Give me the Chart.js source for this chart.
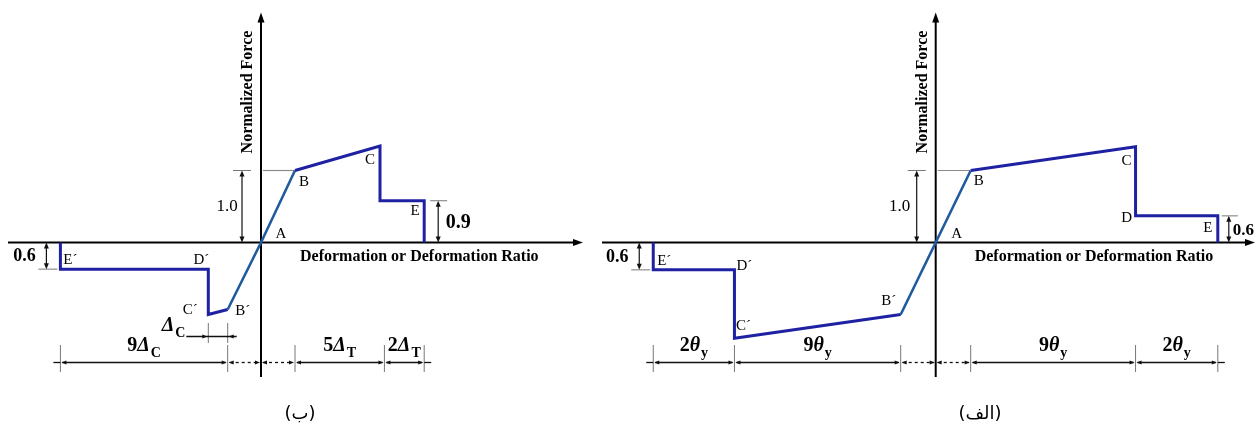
<!DOCTYPE html>
<html lang="fa">
<head>
<meta charset="utf-8">
<title>منحنی نیرو - تغییر شکل</title>
<script src="https://cdn.jsdelivr.net/npm/chart.js@4.4.1/dist/chart.umd.min.js"></script>
<style>
  html, body { margin: 0; padding: 0; background: #fff; }
  #wrap { position: relative; width: 1258px; height: 425px; overflow: hidden; }
  canvas { position: absolute; top: 0; }
  #chartB { left: 0; }
  #chartA { left: 600px; }
</style>
</head>
<body>
<div id="wrap">
  <canvas id="chartB" width="600" height="425"></canvas>
  <canvas id="chartA" width="658" height="425"></canvas>
</div>
<script>
// Panel (ب) : deformation in drawing units (B = 1), normalized force
const pointNamesB = ['', 'E´', 'D´', 'C´', 'B´', 'A', 'B', 'C', '', 'E', ''];
const deformB = [-5.9, -5.9, -1.55, -1.55, -0.98, 0, 1.0, 3.5, 3.5, 4.8, 4.8];
const forceB  = [0, -0.37, -0.37, -1.0, -0.93, 0, 1.0, 1.34, 0.58, 0.58, 0];
const dimTicksB  = [-5.9, -0.98, 0, 1.0, 3.63, 4.8];
const dimLabelsB = ['9Δ_C', '', '', '5Δ_T', '2Δ_T'];

// Panel (الف)
const pointNamesA = ['', 'E´', 'D´', 'C´', 'B´', 'A', 'B', 'C', 'D', 'E', ''];
const deformA = [-8.07, -8.07, -5.75, -5.75, -1.0, 0, 1.0, 5.71, 5.71, 8.06, 8.06];
const forceA  = [0, -0.38, -0.38, -1.33, -1.0, 0, 1.0, 1.33, 0.37, 0.37, 0];
const dimTicksA  = [-8.07, -5.75, -1.0, 0, 1.0, 5.71, 8.06];
const dimLabelsA = ['2θ_y', '9θ_y', '', '', '9θ_y', '2θ_y'];

const FONT = '"Liberation Serif", "Times New Roman", serif';
const PLASTIC = '#1f21a3';
const ELASTIC = '#1f5b9e';

function line(ctx, x1, y1, x2, y2) {
  ctx.beginPath(); ctx.moveTo(x1, y1); ctx.lineTo(x2, y2); ctx.stroke();
}
// filled arrow head, tip at (x,y) pointing toward angle
function head(ctx, x, y, ang, len, half) {
  const c = Math.cos(ang), s = Math.sin(ang);
  ctx.beginPath();
  ctx.moveTo(x, y);
  ctx.lineTo(x - len * c - half * s, y - len * s + half * c);
  ctx.lineTo(x - len * c + half * s, y - len * s - half * c);
  ctx.closePath(); ctx.fill();
}
// "9Δ_C" -> bold 9, italic Δ, subscript C
function subText(ctx, label, cx, base, size, align) {
  const parts = label.split('_');
  const m = parts[0].match(/^(\d*)(.*)$/);
  const num = m[1], greek = m[2], sub = parts[1] || '';
  const fNum = `bold ${size}px ${FONT}`;
  const fGreek = `italic bold ${size}px ${FONT}`;
  const fSub = `bold ${Math.round(size * 0.68)}px ${FONT}`;
  ctx.font = fNum; const w1 = ctx.measureText(num).width;
  ctx.font = fGreek; const w2 = ctx.measureText(greek).width;
  ctx.font = fSub; const w3 = ctx.measureText(sub).width;
  let x = align === 'right' ? cx - (w1 + w2 + w3 + 1) : cx - (w1 + w2 + w3 + 1) / 2;
  ctx.textAlign = 'left'; ctx.textBaseline = 'alphabetic';
  ctx.font = fNum; ctx.fillText(num, x, base); x += w1;
  ctx.font = fGreek; ctx.fillText(greek, x, base); x += w2;
  ctx.font = fSub; ctx.fillText(sub, x + 1, base + 6);
}
// vertical dimension with two arrow heads and one tick
function vdim(ctx, d) {
  ctx.save();
  ctx.strokeStyle = '#111'; ctx.fillStyle = '#111'; ctx.lineWidth = 1.2;
  line(ctx, d.x, d.top + 3, d.x, d.bot - 3);
  head(ctx, d.x, d.top, -Math.PI / 2, 6, 2.5);
  head(ctx, d.x, d.bot, Math.PI / 2, 6, 2.5);
  ctx.strokeStyle = '#777'; ctx.lineWidth = 1;
  line(ctx, d.t1, d.tickY, d.t2, d.tickY);
  ctx.fillStyle = '#000';
  ctx.font = d.font; ctx.textAlign = d.align || 'center'; ctx.textBaseline = 'middle';
  ctx.fillText(d.text, d.tx, d.ty);
  ctx.restore();
}

function makeSketch(cfg) {
  return {
    id: 'sketch',
    beforeDatasetsDraw(chart) {
      const ctx = chart.ctx, xs = chart.scales.x, ys = chart.scales.y;
      const x0 = xs.getPixelForValue(0), y0 = ys.getPixelForValue(0);
      const bx = xs.getPixelForValue(cfg.deform[6]), by = ys.getPixelForValue(cfg.force[6]);
      ctx.save();
      ctx.strokeStyle = '#000'; ctx.fillStyle = '#000'; ctx.lineWidth = 2;
      line(ctx, cfg.axisFrom, y0, cfg.axisTo - 6, y0);
      head(ctx, cfg.axisTo, y0, 0, 10, 3.5);
      line(ctx, x0, 377, x0, 20);
      head(ctx, x0, 12.5, -Math.PI / 2, 10, 3.5);
      // yield reference line
      ctx.strokeStyle = '#8a8a8a'; ctx.lineWidth = 1.2;
      line(ctx, x0 + 2, by, bx - 1, by);
      ctx.restore();
    },
    afterDatasetsDraw(chart) {
      const ctx = chart.ctx, xs = chart.scales.x, ys = chart.scales.y;
      const px = v => xs.getPixelForValue(v), py = v => ys.getPixelForValue(v);
      const x0 = px(0), y0 = py(0);
      ctx.save();
      // point names
      ctx.fillStyle = '#000';
      ctx.font = `15px ${FONT}`; ctx.textAlign = 'center'; ctx.textBaseline = 'middle';
      cfg.names.forEach((n, i) => {
        if (!n) return;
        const o = cfg.nameOffsets[i];
        ctx.fillText(n, px(cfg.deform[i]) + o[0], py(cfg.force[i]) + o[1]);
      });
      // axis titles
      ctx.font = `bold 16px ${FONT}`; ctx.textAlign = 'left';
      ctx.fillText('Deformation or Deformation Ratio', x0 + 39, 256.5);
      ctx.save();
      ctx.translate(x0 - 13, 92); ctx.rotate(-Math.PI / 2);
      ctx.textAlign = 'center';
      ctx.fillText('Normalized Force', 0, 0);
      ctx.restore();
      // horizontal dimension chain
      const dy = 362.5;
      const ticks = cfg.dimTicks.map(px);
      ctx.strokeStyle = '#777'; ctx.lineWidth = 1;
      ticks.forEach(t => { if (Math.abs(t - x0) > 1) line(ctx, t, 345, t, 372); });
      ctx.strokeStyle = '#111'; ctx.fillStyle = '#111'; ctx.lineWidth = 1.3;
      line(ctx, ticks[0] - 7, dy, ticks[0], dy);
      line(ctx, ticks[ticks.length - 1], dy, ticks[ticks.length - 1] + 7, dy);
      for (let i = 0; i < ticks.length - 1; i++) {
        const a = ticks[i], b = ticks[i + 1];
        ctx.setLineDash(cfg.dimLabels[i] ? [] : [3, 3]);
        line(ctx, a + 2, dy, b - 2, dy);
        ctx.setLineDash([]);
        head(ctx, a + 1, dy, Math.PI, 5, 2);
        head(ctx, b - 1, dy, 0, 5, 2);
        if (cfg.dimLabels[i]) {
          ctx.fillStyle = '#000';
          subText(ctx, cfg.dimLabels[i], (a + b) / 2, 351, 20);
          ctx.fillStyle = '#111';
        }
      }
      // vertical dimensions
      const E = cfg.force.length - 2, Ep = 1;
      const ex = px(cfg.deform[E]), ey = py(cfg.force[E]);
      const epx = px(cfg.deform[Ep]), epy = py(cfg.force[Ep]);
      const by = py(cfg.force[6]);
      vdim(ctx, { x: x0 - 19, top: by, bot: y0, tickY: by, t1: x0 - 28, t2: x0 - 10,
        text: '1.0', font: `17px ${FONT}`, tx: x0 - cfg.oneOff, ty: (by + y0) / 2 });
      vdim(ctx, Object.assign({ x: ex + cfg.rdim.ax, top: ey, bot: y0, tickY: ey,
        t1: ex + cfg.rdim.t1, t2: ex + cfg.rdim.t2, ty: (ey + y0) / 2 + 1 }, cfg.rdim.label(ex)));
      vdim(ctx, { x: epx - 14, top: y0, bot: epy, tickY: epy, t1: epx - 22, t2: epx - 3,
        text: '0.6', font: `bold 18px ${FONT}`, tx: epx - 36, ty: (y0 + epy) / 2 + 1 });
      // Δc small dimension
      if (cfg.deltaC) {
        const c1 = px(cfg.deform[3]), c2 = px(cfg.deform[4]), yy = 336.5;
        ctx.strokeStyle = '#777'; ctx.lineWidth = 1;
        line(ctx, c1, 323, c1, 343); line(ctx, c2, 323, c2, 343);
        ctx.strokeStyle = '#111'; ctx.fillStyle = '#111'; ctx.lineWidth = 1.3;
        line(ctx, c1 - 22, yy, c2 + 9, yy);
        head(ctx, c1 - 1, yy, 0, 5, 2);
        head(ctx, c2 + 1, yy, Math.PI, 5, 2);
        ctx.fillStyle = '#000';
        subText(ctx, cfg.deltaC, c1 - 23, 331, 20, 'right');
      }
      // caption
      ctx.fillStyle = '#000';
      ctx.font = '18px "DejaVu Sans", sans-serif'; ctx.textAlign = 'center'; ctx.textBaseline = 'middle';
      ctx.fillText(cfg.caption, cfg.captionX, 414);
      ctx.restore();
    }
  };
}

function buildChart(id, deform, force, originX, unitX, width, cfg) {
  const originY = 242.5, unitY = 72, height = 425;
  cfg.deform = deform; cfg.force = force;
  return new Chart(document.getElementById(id), {
    type: 'scatter',
    data: {
      datasets: [{
        data: deform.map((x, i) => ({ x: x, y: force[i] })),
        showLine: true,
        pointRadius: 0,
        borderColor: PLASTIC,
        borderWidth: 3,
        borderJoinStyle: 'miter',
        segment: {
          borderColor: c => (c.p0DataIndex === 4 || c.p0DataIndex === 5) ? ELASTIC : PLASTIC,
          borderWidth: c => (c.p0DataIndex === 4 || c.p0DataIndex === 5) ? 2.6 : 3
        }
      }]
    },
    options: {
      responsive: false,
      animation: false,
      events: [],
      layout: { padding: 0 },
      plugins: { legend: { display: false }, tooltip: { enabled: false } },
      scales: {
        x: { type: 'linear', display: false, min: -originX / unitX, max: (width - originX) / unitX },
        y: { type: 'linear', display: false, min: -(height - originY) / unitY, max: originY / unitY }
      }
    },
    plugins: [makeSketch(cfg)]
  });
}

buildChart('chartB', deformB, forceB, 261, 34, 600, {
  names: pointNamesB,
  nameOffsets: [null, [10, -9], [-7, -9], [-18, -4], [15, 2], [20, -8], [9, 12], [-10, 14], null, [-9, 10], null],
  dimTicks: dimTicksB, dimLabels: dimLabelsB,
  axisFrom: 8, axisTo: 583, oneOff: 34,
  rdim: { ax: 14, t1: 6, t2: 23,
    label: ex => ({ text: '0.9', font: `bold 20px ${FONT}`, tx: ex + 34 }) },
  deltaC: 'Δ_C',
  caption: '(ب)', captionX: 300
});

buildChart('chartA', deformA, forceA, 335.7, 35, 658, {
  names: pointNamesA,
  nameOffsets: [null, [11, -9], [10, -4], [9, -12], [-12, -13], [21, -8], [8, 11], [-9, 14], [-9, 2], [-10, 12], null],
  dimTicks: dimTicksA, dimLabels: dimLabelsA,
  axisFrom: 2, axisTo: 655, oneOff: 36,
  rdim: { ax: 11, t1: 4, t2: 20,
    label: ex => ({ text: '0.6', font: `bold 17px ${FONT}`, tx: ex + 15, align: 'left' }) },
  deltaC: null,
  caption: '(الف)', captionX: 380
});
</script>
</body>
</html>
